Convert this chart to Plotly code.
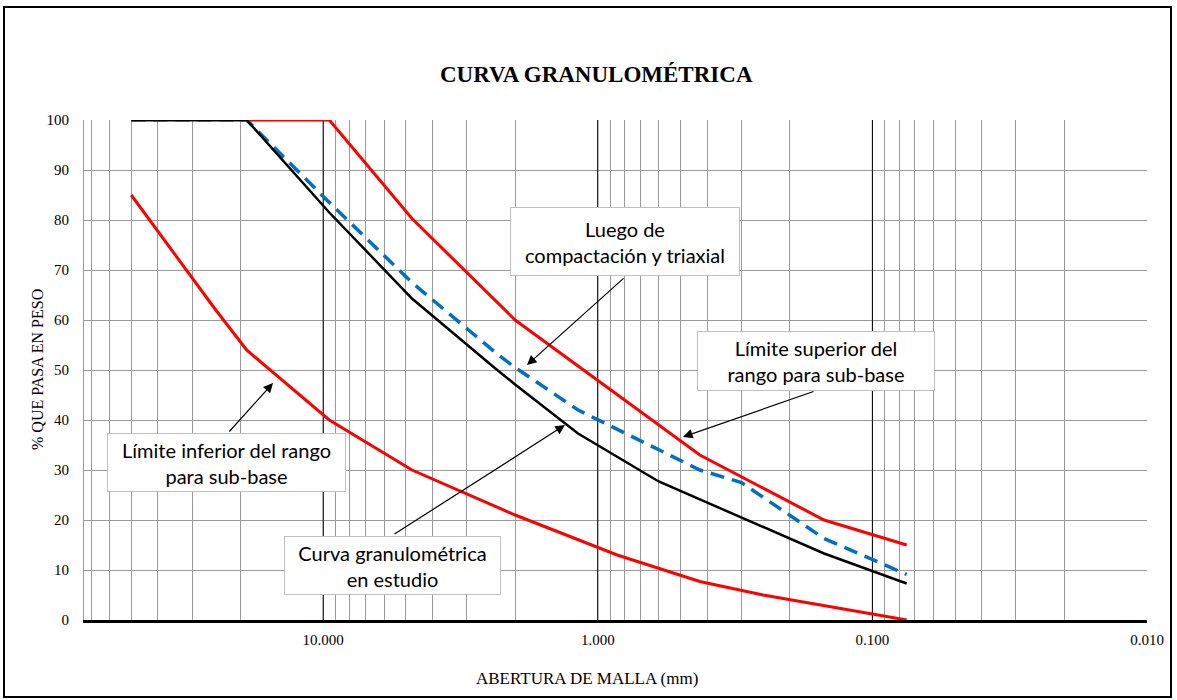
import math
import plotly.graph_objects as go

# ---------------- data ----------------
# Límite inferior del rango para sub-base
lim_inf_x = [50, 25, 19, 9.5, 4.75, 2.0, 0.85, 0.425, 0.25, 0.075]
lim_inf_y = [85, 62.5, 54, 40, 30, 21, 13, 7.7, 5, 0]

# Límite superior del rango para sub-base
lim_sup_x = [50, 9.5, 4.75, 2.0, 0.425, 0.15, 0.075]
lim_sup_y = [100, 100, 80.3, 60, 33, 20, 15]

# Curva granulométrica en estudio
estudio_x = [50, 19, 9.5, 4.75, 2.36, 2.0, 1.18, 0.6, 0.15, 0.075]
estudio_y = [100, 100, 81.5, 64.3, 50.3, 47.1, 37.3, 27.7, 13.3, 7.3]

# Luego de compactación y triaxial
compact_x = [50, 19, 9.5, 4.75, 2.36, 2.0, 1.18, 0.6, 0.425, 0.3, 0.15, 0.075]
compact_y = [100, 100, 83.5, 67.5, 53.5, 50.5, 42, 34, 30, 27.5, 16.3, 9.1]

major_ticks = [10, 1, 0.1, 0.01]
major_labels = ["10.000", "1.000", "0.100", "0.010"]
y_ticks = [0, 10, 20, 30, 40, 50, 60, 70, 80, 90, 100]

# ---------------- layout geometry ----------------
W, H = 1177, 700
L, R, T, B = 84, 30, 120, 80
PW, PH = W - L - R, H - T - B


def px(x):
    return (x - L) / PW


def py(y):
    return (H - B - y) / PH


SERIF = "Liberation Serif, Times New Roman, serif"
SANS = "Lato, Carlito, Calibri, sans-serif"

# grid values: majors plus 2..9 multiples of each decade
x_max = 74.3
grid_vals, grid_text = [], []
for dec, lab in zip(major_ticks, major_labels):
    grid_vals.append(dec)
    grid_text.append(lab)
    for m in range(2, 10):
        v = dec * m
        if v <= x_max:
            grid_vals.append(v)
            grid_text.append("")

fig = go.Figure()

# major decade grid lines (black)
for v in major_ticks[:-1]:
    fig.add_trace(go.Scatter(x=[v, v], y=[y_ticks[0], y_ticks[-1]], mode="lines",
                             line=dict(color="black", width=1),
                             hoverinfo="skip", showlegend=False))

fig.add_trace(go.Scatter(x=lim_inf_x, y=lim_inf_y, mode="lines",
                         line=dict(color="#FF0000", width=3), name="Límite inferior"))
fig.add_trace(go.Scatter(x=lim_sup_x, y=lim_sup_y, mode="lines",
                         line=dict(color="#FF0000", width=3), name="Límite superior"))
fig.add_trace(go.Scatter(x=compact_x, y=compact_y, mode="lines",
                         line=dict(color="#0070C0", width=3.5, dash="14px,8px"),
                         name="Luego de compactación y triaxial"))
fig.add_trace(go.Scatter(x=estudio_x, y=estudio_y, mode="lines",
                         line=dict(color="black", width=2.5), name="Curva en estudio"))

fig.update_layout(
    width=W, height=H,
    margin=dict(l=L, r=R, t=T, b=B),
    paper_bgcolor="white", plot_bgcolor="white",
    showlegend=False,
    xaxis=dict(
        type="log", range=[math.log10(x_max), -2],
        tickvals=grid_vals, ticktext=grid_text,
        showgrid=True, gridcolor="#9a9a9a", gridwidth=1,
        showline=True, linecolor="black", linewidth=3,
        ticks="outside", ticklen=4, tickcolor="rgba(0,0,0,0)",
        tickfont=dict(family=SERIF, size=15, color="black"),
        zeroline=False,
    ),
    yaxis=dict(
        range=[0, 100], tickvals=y_ticks,
        showgrid=True, gridcolor="#9a9a9a", gridwidth=1,
        showline=True, linecolor="#9a9a9a", linewidth=1,
        ticks="outside", ticklen=11, tickcolor="rgba(0,0,0,0)",
        tickfont=dict(family=SERIF, size=15, color="black"),
        zeroline=False,
    ),
)

# outer frame
fig.add_shape(type="rect", xref="paper", yref="paper",
              x0=px(4), x1=px(1171), y0=py(697), y1=py(7),
              line=dict(color="black", width=2), layer="above")

# titles
fig.add_annotation(text="<b>CURVA GRANULOMÉTRICA</b>", xref="paper", yref="paper",
                   x=px(596), y=py(75), showarrow=False,
                   font=dict(family=SERIF, size=23, color="black"),
                   xanchor="center", yanchor="middle")
fig.add_annotation(text="ABERTURA DE MALLA (mm)", xref="paper", yref="paper",
                   x=px(587), y=py(678), showarrow=False,
                   font=dict(family=SERIF, size=17, color="black"),
                   xanchor="center", yanchor="middle")
fig.add_annotation(text="% QUE PASA EN PESO", xref="paper", yref="paper",
                   x=px(37), y=py(370), showarrow=False, textangle=-90,
                   font=dict(family=SERIF, size=16, color="black"),
                   xanchor="center", yanchor="middle")

# callout boxes: (text, left, top, right, bottom)
boxes = [
    ("Luego de<br>compactación y triaxial", 510, 207, 740, 276),
    ("Límite superior del<br>rango para sub-base", 697, 331, 935, 391),
    ("Límite inferior del rango<br>para sub-base", 107, 433, 346, 492),
    ("Curva granulométrica<br>en estudio", 284, 536, 501, 595),
]
for txt, l, t, r, b in boxes:
    fig.add_annotation(text=txt, xref="paper", yref="paper",
                       x=px((l + r) / 2), y=py((t + b) / 2),
                       xanchor="center", yanchor="middle", showarrow=False,
                       width=r - l - 2, height=b - t - 2, borderpad=0,
                       bgcolor="white", bordercolor="#bfbfbf", borderwidth=1,
                       align="center",
                       font=dict(family=SANS, size=20, color="black"))

# arrows: (tail_x, tail_y, head_x, head_y) in pixels
arrows = [
    (625, 277, 527, 365),
    (815, 391, 683, 437),
    (228, 433, 273, 383),
    (393, 535, 565, 425),
]
for tx, ty, hx, hy in arrows:
    fig.add_annotation(text="", xref="paper", yref="paper",
                       x=px(hx), y=py(hy), ax=tx - hx, ay=ty - hy,
                       showarrow=True, arrowhead=2, arrowsize=1.6,
                       arrowwidth=1.2, arrowcolor="black")

fig.write_html("out.html",
               config={"displayModeBar": False},
               post_script="document.body.style.margin='0';document.body.style.padding='0';")
